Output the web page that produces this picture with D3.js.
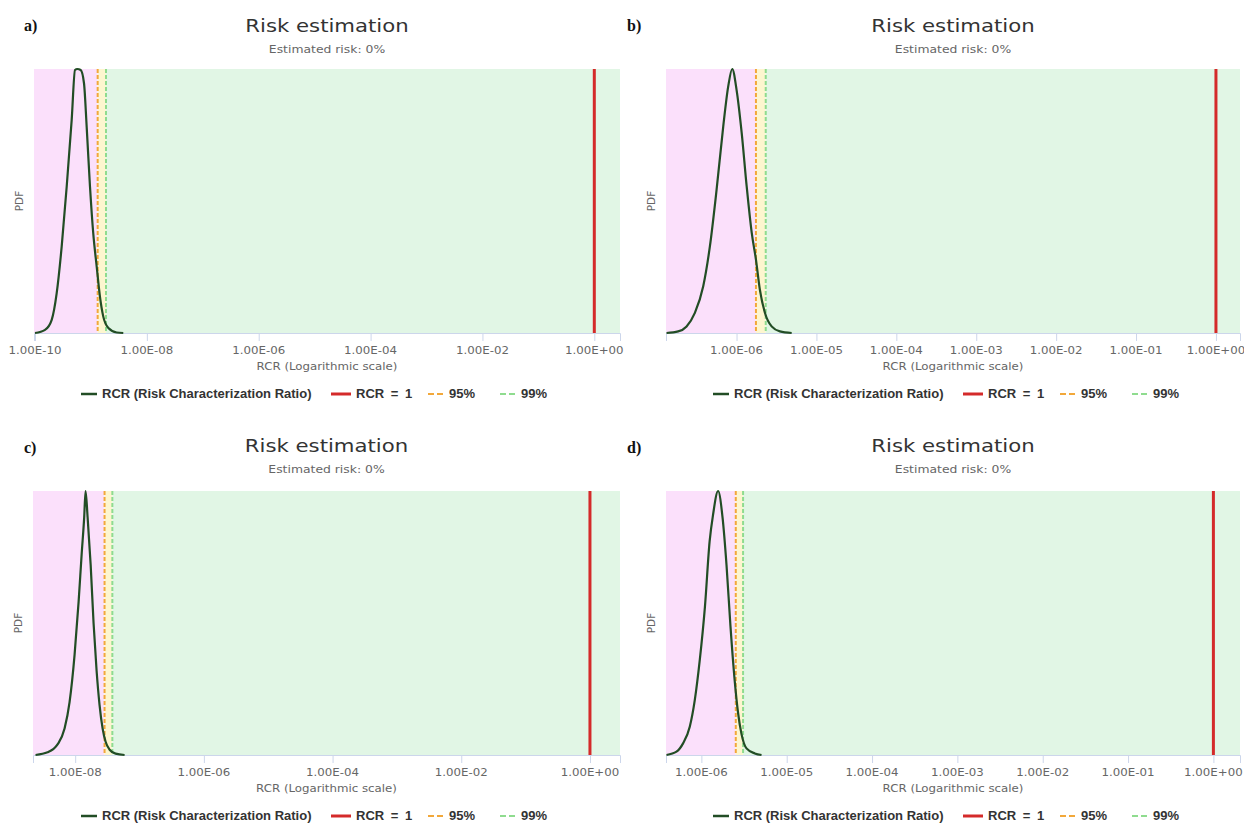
<!DOCTYPE html>
<html>
<head>
<meta charset="utf-8">
<script src="https://cdn.jsdelivr.net/npm/d3@7"></script>
<style>
  html, body { margin: 0; padding: 0; background: #ffffff; }
  svg { display: block; }
</style>
</head>
<body>
<svg id="chart" width="1244" height="832"></svg>
<script>
// ---- Texts ----
const panelLabels = ["a)", "b)", "c)", "d)"];
const titleText = "Risk estimation";
const subtitleText = "Estimated risk: 0%";
const xAxisTitle = "RCR (Logarithmic scale)";
const yAxisTitle = "PDF";
const legendLabels = ["RCR (Risk Characterization Ratio)", "RCR = 1", "95%", "99%"];

// ---- RCR density curves (RCR value, relative PDF) ----
const rcrA = [1.00e-10, 1.51e-10, 1.99e-10, 2.44e-10, 3.00e-10, 3.69e-10, 4.53e-10, 5.19e-10, 5.70e-10, 6.56e-10,
              7.52e-10, 8.40e-10, 9.62e-10, 1.10e-9, 1.27e-9, 1.45e-9, 1.66e-9, 2.05e-9, 2.89e-9, 3.79e-9];
const pdfA = [0, 0.012, 0.05, 0.15, 0.327, 0.555, 0.807, 0.996, 1.0, 0.996,
              0.946, 0.78, 0.555, 0.378, 0.25, 0.138, 0.063, 0.019, 0.002, 0];

const rcrB = [1.33e-7, 1.86e-7, 2.37e-7, 3.01e-7, 3.83e-7, 4.64e-7, 5.63e-7, 6.82e-7, 7.87e-7, 8.83e-7,
              1.00e-6, 1.16e-6, 1.34e-6, 1.55e-6, 1.75e-6, 1.96e-6, 2.27e-6, 2.75e-6, 3.49e-6, 4.90e-6];
const pdfB = [0, 0.006, 0.025, 0.076, 0.177, 0.328, 0.543, 0.783, 0.934, 1.0,
              0.922, 0.758, 0.555, 0.379, 0.278, 0.164, 0.076, 0.025, 0.006, 0];

const rcrC = [2.42e-9, 3.72e-9, 5.32e-9, 6.84e-9, 8.18e-9, 9.79e-9, 1.13e-8, 1.26e-8, 1.38e-8, 1.45e-8,
              1.56e-8, 1.74e-8, 1.93e-8, 2.15e-8, 2.39e-8, 2.67e-8, 2.97e-8, 3.43e-8, 4.25e-8, 5.86e-8];
const pdfC = [0, 0.01, 0.04, 0.1, 0.2, 0.38, 0.58, 0.76, 0.9, 1.0,
              0.9, 0.72, 0.5, 0.32, 0.19, 0.1, 0.05, 0.02, 0.005, 0];

const rcrD = [3.90e-7, 5.11e-7, 6.10e-7, 7.31e-7, 8.37e-7, 9.58e-7, 1.10e-6, 1.25e-6, 1.37e-6, 1.57e-6,
              1.77e-6, 1.97e-6, 2.19e-6, 2.46e-6, 2.69e-6, 2.95e-6, 3.38e-6, 4.23e-6, 5.07e-6];
const pdfD = [0, 0.0126, 0.044, 0.107, 0.208, 0.36, 0.56, 0.81, 0.91, 1.0,
              0.9, 0.72, 0.49, 0.28, 0.16, 0.08, 0.025, 0.006, 0];

// ---- Percentiles and limit ----
const p95Values = [1.32e-9, 1.75e-6, 2.86e-8, 2.53e-6];
const p99Values = [1.86e-9, 2.32e-6, 3.78e-8, 3.08e-6];
const rcrLimit = 1;

// ---- Axis ranges and ticks ----
const xMinValues = [9.6e-11, 1.31e-7, 2.21e-9, 3.85e-7];
const xMaxValues = [2.88, 2.0, 2.93, 2.05];
const ticksA = [1e-10, 1e-8, 1e-6, 1e-4, 1e-2, 1];
const ticksB = [1e-6, 1e-5, 1e-4, 1e-3, 1e-2, 1e-1, 1];
const ticksC = [1e-8, 1e-6, 1e-4, 1e-2, 1];
const ticksD = [1e-6, 1e-5, 1e-4, 1e-3, 1e-2, 1e-1, 1];

// ---- Layout ----
const FONT = "'DejaVu Sans', Verdana, sans-serif";
const SX = 1.18; // horizontal stretch of the chart typography
const layouts = [
  { left: 34,  right: 620,  top: 69,  bottom: 333, legendX: 81,  titleY: 32 },
  { left: 666, right: 1240, top: 69,  bottom: 333, legendX: 713, titleY: 32 },
  { left: 33,  right: 620,  top: 491, bottom: 755, legendX: 81,  titleY: 452 },
  { left: 666, right: 1240, top: 491, bottom: 755, legendX: 713, titleY: 452 }
];
const labelPos = [[24, 31], [627, 31], [24, 453], [627, 453]];
const legendOffsets = [0, 250, 347, 419];   // item start positions within a legend row

const colors = {
  pink: "#fbe0fb", yellow: "#fdf6cf", green: "#e1f6e5",
  curve: "#224d25", limit: "#d42a2a", p95: "#f2a83a", p99: "#8fdc8f",
  axis: "#ccd6eb", tickText: "#666666", title: "#333333"
};

const panels = [
  { rcr: rcrA, pdf: pdfA, ticks: ticksA },
  { rcr: rcrB, pdf: pdfB, ticks: ticksB },
  { rcr: rcrC, pdf: pdfC, ticks: ticksC },
  { rcr: rcrD, pdf: pdfD, ticks: ticksD }
];

const svg = d3.select("#chart");

function addText(parent, x, y, str, o) {
  const g = parent.append("g")
    .attr("transform", `translate(${x},${y}) scale(${o.sx ?? SX},1)`);
  return g.append("text")
    .attr("text-anchor", o.anchor || "middle")
    .attr("font-family", o.family || FONT)
    .attr("font-size", o.size)
    .attr("font-weight", o.weight || "normal")
    .attr("fill", o.fill || colors.title)
    .text(str);
}

function fmtExp(v) {
  const [m, e] = v.toExponential(2).split("e");
  const n = Math.abs(+e);
  return `${m}E${+e < 0 ? "-" : "+"}${n < 10 ? "0" + n : n}`;
}

panels.forEach((p, i) => {
  const L = layouts[i];
  const g = svg.append("g");
  const x = d3.scaleLog().domain([xMinValues[i], xMaxValues[i]]).range([L.left, L.right]);
  const y = d3.scaleLinear().domain([0, 1]).range([L.bottom, L.top]);
  const cx = (L.left + L.right) / 2;

  // background bands: below 95th percentile, 95–99, above 99th
  g.append("rect").attr("x", L.left).attr("y", L.top)
    .attr("width", x(p95Values[i]) - L.left).attr("height", L.bottom - L.top)
    .attr("fill", colors.pink);
  g.append("rect").attr("x", x(p95Values[i])).attr("y", L.top)
    .attr("width", x(p99Values[i]) - x(p95Values[i])).attr("height", L.bottom - L.top)
    .attr("fill", colors.yellow);
  g.append("rect").attr("x", x(p99Values[i])).attr("y", L.top)
    .attr("width", L.right - x(p99Values[i])).attr("height", L.bottom - L.top)
    .attr("fill", colors.green);

  // x axis
  const axis = d3.axisBottom(x).tickValues(p.ticks).tickFormat(() => "").tickSizeOuter(0).tickSize(8);
  const ax = g.append("g").attr("transform", `translate(0,${L.bottom})`).call(axis);
  ax.select(".domain").attr("stroke", colors.axis);
  ax.selectAll(".tick line").attr("stroke", colors.axis);
  p.ticks.forEach(t => {
    addText(g, x(t), L.bottom + 20.5, fmtExp(t), { size: 10, fill: colors.tickText });
  });
  addText(g, cx, L.bottom + 36.5, xAxisTitle, { size: 10, fill: colors.tickText });

  // y axis title
  g.append("text")
    .attr("transform", `translate(${L.left - 11},${(L.top + L.bottom) / 2}) rotate(-90)`)
    .attr("text-anchor", "middle").attr("font-family", FONT)
    .attr("font-size", 10.5).attr("fill", colors.tickText).text(yAxisTitle);

  // percentile lines
  [[p95Values[i], colors.p95], [p99Values[i], colors.p99]].forEach(([v, c]) => {
    g.append("line").attr("x1", x(v)).attr("x2", x(v)).attr("y1", L.top).attr("y2", L.bottom)
      .attr("stroke", c).attr("stroke-width", 2).attr("stroke-dasharray", "4,2");
  });

  // RCR = 1 limit
  g.append("line").attr("x1", x(rcrLimit)).attr("x2", x(rcrLimit)).attr("y1", L.top).attr("y2", L.bottom)
    .attr("stroke", colors.limit).attr("stroke-width", 3);

  // density curve
  const line = d3.line().x((d, k) => x(p.rcr[k])).y((d, k) => y(p.pdf[k])).curve(d3.curveMonotoneX);
  g.append("path").datum(p.pdf).attr("d", line)
    .attr("fill", "none").attr("stroke", colors.curve).attr("stroke-width", 2.2)
    .attr("stroke-linejoin", "round");

  // titles
  addText(g, cx, L.titleY, titleText, { size: 18, fill: colors.title });
  addText(g, cx, L.titleY + 21, subtitleText, { size: 10.5, fill: colors.tickText });

  // panel label
  svg.append("text").attr("x", labelPos[i][0]).attr("y", labelPos[i][1])
    .attr("font-family", "'Liberation Serif', 'Times New Roman', serif")
    .attr("font-weight", "bold").attr("font-size", 16).attr("fill", "#111").text(panelLabels[i]);

  // legend
  const ly = L.bottom + 65;
  const lg = g.append("g");
  const items = [
    { label: legendLabels[0], color: colors.curve, w: 16, sw: 2.5, dash: null },
    { label: legendLabels[1], color: colors.limit, w: 20, sw: 3, dash: null },
    { label: legendLabels[2], color: colors.p95, w: 16, sw: 2, dash: "6,3" },
    { label: legendLabels[3], color: colors.p99, w: 16, sw: 2, dash: "6,3" }
  ];
  items.forEach((it, k) => {
    const sx0 = L.legendX + legendOffsets[k];
    lg.append("line").attr("x1", sx0).attr("x2", sx0 + it.w).attr("y1", ly - 4).attr("y2", ly - 4)
      .attr("stroke", it.color).attr("stroke-width", it.sw).attr("stroke-dasharray", it.dash);
    lg.append("text").attr("x", sx0 + it.w + 5).attr("y", ly)
      .attr("font-family", "'Liberation Sans', Arial, sans-serif").attr("font-weight", "bold")
      .attr("font-size", 13).attr("word-spacing", k === 1 ? 3 : 0)
      .attr("fill", colors.title).text(it.label);
  });
});
</script>
</body>
</html>
